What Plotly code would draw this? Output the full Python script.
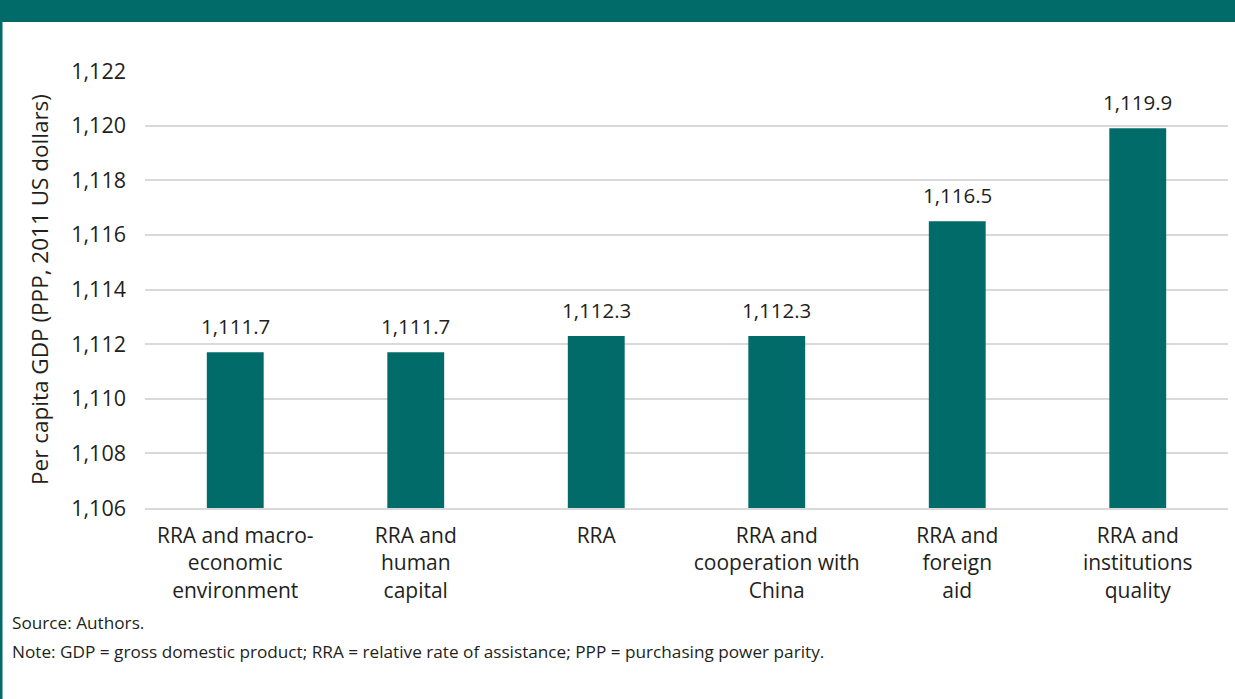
import plotly.graph_objects as go

categories = [
    "RRA and macro-<br>economic<br>environment",
    "RRA and<br>human<br>capital",
    "RRA",
    "RRA and<br>cooperation with<br>China",
    "RRA and<br>foreign<br>aid",
    "RRA and<br>institutions<br>quality",
]
values = [1111.7, 1111.7, 1112.3, 1112.3, 1116.5, 1119.9]
y_ticks = [1106, 1108, 1110, 1112, 1114, 1116, 1118, 1120, 1122]

TEAL = "#006B68"
TXT = "#231F20"
FONT = "Open Sans"

W, H = 1235, 699
ML, MR, MT, MB = 145, 7, 71, 191
pw = W - ML - MR
ph = H - MT - MB

def px_x(x):
    return (x - ML) / pw

def px_y(y):
    return (H - MB - y) / ph

fig = go.Figure()
fig.add_trace(go.Bar(
    x=categories, y=values,
    marker=dict(color=TEAL, line=dict(width=0)),
    cliponaxis=False,
))

value_labels = [
    dict(x=c, y=v, xref="x", yref="y", text=f"{v:,.1f}",
         showarrow=False, yanchor="bottom", xanchor="center", yshift=10,
         font=dict(family=FONT, size=20.5, color=TXT))
    for c, v in zip(categories, values)
]

fig.update_layout(
    width=W, height=H,
    margin=dict(l=ML, r=MR, t=MT, b=MB, pad=0),
    paper_bgcolor="white", plot_bgcolor="white",
    bargap=0.685,
    showlegend=False,
    font=dict(family=FONT, color=TXT),
    xaxis=dict(
        tickfont=dict(family=FONT, size=21, color=TXT),
        showgrid=False, showline=True, linecolor="#D9D9D9", linewidth=1.5,
        ticks="", ticklabelstandoff=8,
    ),
    yaxis=dict(
        range=[1106, 1122], tickvals=y_ticks, tickformat=",d",
        tickfont=dict(family=FONT, size=21.5, color=TXT),
        showgrid=True, gridcolor="#D9D9D9", gridwidth=1.5,
        zeroline=False, ticks="", ticklabelstandoff=18,
        title=dict(text="Per capita GDP (PPP, 2011 US dollars)",
                   font=dict(family=FONT, size=22.5, color=TXT), standoff=16),
    ),
    shapes=[
        dict(type="rect", xref="paper", yref="paper",
             x0=px_x(0), x1=px_x(W), y0=px_y(22), y1=px_y(0),
             fillcolor=TEAL, line=dict(width=0), layer="above"),
        dict(type="rect", xref="paper", yref="paper",
             x0=px_x(0), x1=px_x(2.5), y0=px_y(H), y1=px_y(0),
             fillcolor=TEAL, line=dict(width=0), layer="above"),
    ],
    annotations=value_labels + [
        dict(text="Source: Authors.", xref="paper", yref="paper",
             x=px_x(10), y=px_y(622), xanchor="left", yanchor="middle",
             showarrow=False, font=dict(family=FONT, size=17.2, color=TXT)),
        dict(text="Note: GDP = gross domestic product; RRA = relative rate of assistance; PPP = purchasing power parity.",
             xref="paper", yref="paper",
             x=px_x(10), y=px_y(651), xanchor="left", yanchor="middle",
             showarrow=False, font=dict(family=FONT, size=17.2, color=TXT)),
    ],
)

fig.write_html("out.html")
